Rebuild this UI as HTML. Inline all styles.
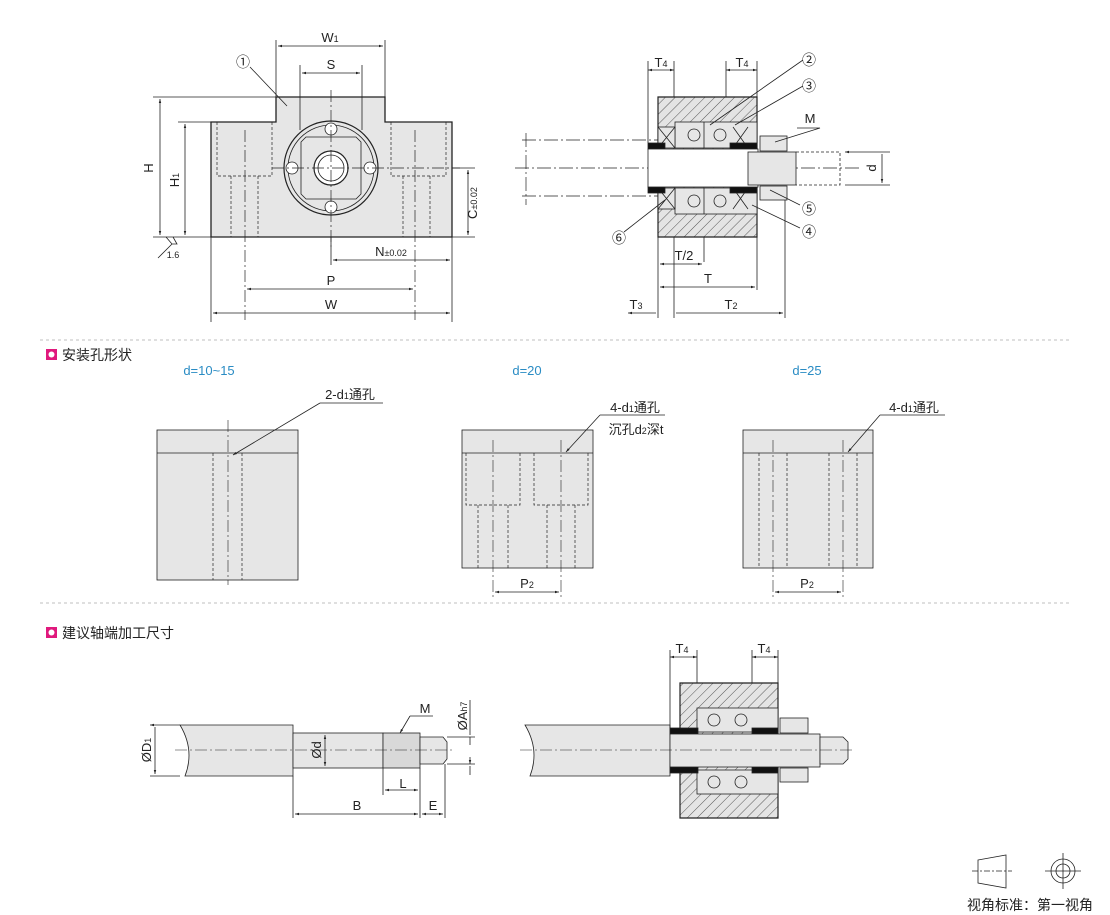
<!DOCTYPE html>
<html><head><meta charset="utf-8"><style>
body{margin:0;background:#fff}
svg{display:block;font-family:"Liberation Sans","Noto Sans CJK SC",sans-serif}
</style></head><body>
<svg width="1110" height="915" viewBox="0 0 1110 915" xmlns="http://www.w3.org/2000/svg">
<defs>
<pattern id="h" width="7" height="7" patternUnits="userSpaceOnUse" patternTransform="rotate(45)"><rect width="7" height="7" fill="#e4e4e4"/><line x1="0" y1="0" x2="0" y2="7" stroke="#333" stroke-width="0.8"/></pattern>
<marker id="a" viewBox="0 0 10 10" refX="10" refY="5" markerWidth="7" markerHeight="5" orient="auto-start-reverse"><path d="M0,2 L10,5 L0,8z" fill="#222"/></marker>
</defs>
<g stroke="#222" stroke-width="0.8" fill="none">
<!-- TOP LEFT VIEW -->
<path d="M211,122 H276 V97 H385 V122 H452 V237 H211 Z" fill="#e6e6e6" stroke-width="1.3"/>
<g stroke-dasharray="3,2" stroke-width="0.7">
<path d="M217,122 V176 H272 V122"/><path d="M391,122 V176 H446 V122"/>
<path d="M231,176 V237 M258,176 V237 M403,176 V237 M430,176 V237"/>
</g>
<circle cx="331" cy="168" r="47" fill="#e6e6e6" stroke-width="1.2"/>
<circle cx="331" cy="168" r="43"/>
<path d="M306,137 H356 L361,142 V194 L356,199 H306 L301,194 V142 Z"/>
<circle cx="331" cy="168" r="17" fill="#fff" stroke-width="1.2"/>
<circle cx="331" cy="168" r="13"/>
<circle cx="331" cy="129" r="6" fill="#fff"/><circle cx="331" cy="207" r="6" fill="#fff"/>
<circle cx="292" cy="168" r="6" fill="#fff"/><circle cx="370" cy="168" r="6" fill="#fff"/>
<g stroke-dasharray="12,3,2,3" stroke-width="0.7">
<path d="M331,90 V250 M272,168 H460 M245,130 V320 M415,130 V320"/>
</g>
<!-- dims -->
<path d="M276,97 V40 M385,97 V40 M300,130 V65 M362,130 V65"/>
<path d="M278,46 H383" marker-start="url(#a)" marker-end="url(#a)"/>
<path d="M302,73 H360" marker-start="url(#a)" marker-end="url(#a)"/>
<path d="M153,97 H276 M178,122 H211 M153,237 H211"/>
<path d="M160,99 V235" marker-start="url(#a)" marker-end="url(#a)"/>
<path d="M185,124 V235" marker-start="url(#a)" marker-end="url(#a)"/>
<path d="M452,168 H475 M452,237 H475"/>
<path d="M468,170 V235" marker-start="url(#a)" marker-end="url(#a)"/>
<path d="M211,237 V322 M452,237 V322 M331,237 V265"/>
<path d="M333,260 H450" marker-start="url(#a)" marker-end="url(#a)"/>
<path d="M247,289 H413" marker-start="url(#a)" marker-end="url(#a)"/>
<path d="M213,313 H450" marker-start="url(#a)" marker-end="url(#a)"/>
<path d="M250,67 L287,106"/>
<path d="M166,237 L172,244 H177 L173,237 M158,258 L172,244"/>
<!-- TOP RIGHT SECTION -->
<g stroke-dasharray="14,3,2,3" stroke-width="0.7"><path d="M522,140 H658 M522,196 H658 M526,133 V205 M515,168 H860"/></g>
<path d="M658,97 H757 V237 H658 Z" fill="url(#h)" stroke-width="1.2"/>
<rect x="675" y="122" width="82" height="26" fill="#e6e6e6"/>
<rect x="675" y="188" width="82" height="26" fill="#e6e6e6"/>
<rect x="658" y="127" width="17" height="21" fill="#e6e6e6"/><rect x="658" y="188" width="17" height="21" fill="#e6e6e6"/>
<path d="M658,127 L675,148 M675,127 L658,148 M658,188 L675,209 M675,188 L658,209 M733,127 L748,148 M748,127 L733,148 M733,188 L748,209 M748,188 L733,209"/>
<circle cx="694" cy="135" r="6"/><circle cx="720" cy="135" r="6"/><circle cx="694" cy="201" r="6"/><circle cx="720" cy="201" r="6"/>
<path d="M704,122 V148 M704,188 V214"/>
<rect x="648" y="143" width="17" height="6" fill="#111"/><rect x="648" y="187" width="17" height="6" fill="#111"/>
<rect x="730" y="143" width="27" height="6" fill="#111"/><rect x="730" y="187" width="27" height="6" fill="#111"/>
<rect x="648" y="149" width="110" height="38" fill="#fff"/>
<rect x="748" y="152" width="48" height="33" fill="#e6e6e6"/>
<path d="M796,152 H840 V185 H796" stroke-dasharray="3,2"/>
<rect x="760" y="136" width="27" height="15" fill="#e6e6e6"/><rect x="760" y="186" width="27" height="14" fill="#e6e6e6"/>
<path d="M648,61 V143 M674,61 V97 M726,61 V97 M757,61 V97 M658,237 V318 M674,237 V318 M704,237 V262 M757,237 V290 M785,200 V318"/>
<path d="M648,70 H674" marker-start="url(#a)" marker-end="url(#a)"/>
<path d="M726,70 H757" marker-start="url(#a)" marker-end="url(#a)"/>
<path d="M660,264 H702" marker-start="url(#a)" marker-end="url(#a)"/>
<path d="M660,287 H755" marker-start="url(#a)" marker-end="url(#a)"/>
<path d="M628,313 H656 M676,313 H783" marker-start="url(#a)" marker-end="url(#a)"/>
<path d="M845,152 H890 M845,185 H890 M882,154 V183" marker-start="url(#a)" marker-end="url(#a)"/>
<path d="M803,60 L710,125 M803,86 L735,125 M797,128 H820 L775,142 M800,205 L770,190 M800,228 L752,205 M624,232 L665,200"/>
<!-- separators -->
<path d="M40,340 H1070 M40,603 H1070" stroke="#aaa" stroke-dasharray="3,3"/>
<!-- mid blocks -->
<rect x="157" y="430" width="141" height="150" fill="#e6e6e6"/><path d="M157,453 H298"/>
<path d="M213,453 V580 M242,453 V580" stroke-dasharray="3,2" stroke-width="0.7"/>
<path d="M228,420 V585" stroke-dasharray="12,3,2,3" stroke-width="0.6"/>
<path d="M320,403 H383 M320,403 L233,455" marker-end="url(#a)"/>
<rect x="462" y="430" width="131" height="138" fill="#e6e6e6"/>
<g stroke-dasharray="3,2" stroke-width="0.7"><path d="M466,453 V505 H520 V453 M534,453 V505 H588 V453 M478,505 V568 M508,505 V568 M547,505 V568 M575,505 V568"/></g>
<path d="M493,440 V598 M561,440 V598" stroke-dasharray="12,3,2,3" stroke-width="0.6"/>
<path d="M462,453 H593"/>
<path d="M600,415 H665 M600,415 L566,452" marker-end="url(#a)"/>
<path d="M495,592 H559" marker-start="url(#a)" marker-end="url(#a)"/>
<rect x="743" y="430" width="130" height="138" fill="#e6e6e6"/><path d="M743,453 H873"/>
<g stroke-dasharray="3,2" stroke-width="0.7"><path d="M759,453 V568 M787,453 V568 M829,453 V568 M857,453 V568"/></g>
<path d="M773,440 V598 M843,440 V598" stroke-dasharray="12,3,2,3" stroke-width="0.6"/>
<path d="M880,415 H945 M880,415 L848,452" marker-end="url(#a)"/>
<path d="M775,592 H841" marker-start="url(#a)" marker-end="url(#a)"/>
<!-- bottom shaft -->
<path d="M180,725 H293 V776 H185 Q195,750 180,725Z" fill="#e6e6e6"/>
<rect x="293" y="733" width="90" height="35" fill="#e6e6e6"/>
<rect x="383" y="733" width="37" height="35" fill="#d8d8d8"/>
<path d="M420,737 H443 L447,742 V759 L443,764 H420Z" fill="#e6e6e6"/>
<path d="M175,750 H455" stroke-dasharray="12,3,2,3" stroke-width="0.6"/>
<path d="M150,725 H180 M150,776 H180 M155,727 V774" marker-start="url(#a)" marker-end="url(#a)"/>
<path d="M325,735 V766" marker-start="url(#a)" marker-end="url(#a)"/>
<path d="M293,776 V818 M383,768 V795 M420,768 V818 M445,764 V818 M447,737 H475 M447,764 H475"/>
<path d="M470,700 V735 M470,766 V775" /><path d="M470,745 V737 M470,757 V764" marker-end="url(#a)"/>
<path d="M385,790 H418" marker-start="url(#a)" marker-end="url(#a)"/>
<path d="M295,814 H418" marker-start="url(#a)" marker-end="url(#a)"/>
<path d="M422,814 H443" marker-start="url(#a)" marker-end="url(#a)"/>
<path d="M410,716 H433 M410,716 L400,733" marker-end="url(#a)"/>
<!-- bottom assembly -->
<path d="M525,725 H670 V776 H530 Q540,750 525,725Z" fill="#e6e6e6"/>
<path d="M680,683 H778 V818 H680Z" fill="url(#h)" stroke-width="1.2"/>
<rect x="697" y="708" width="81" height="24" fill="#e6e6e6"/><rect x="697" y="770" width="81" height="24" fill="#e6e6e6"/>
<circle cx="714" cy="720" r="6"/><circle cx="741" cy="720" r="6"/><circle cx="714" cy="782" r="6"/><circle cx="741" cy="782" r="6"/>
<rect x="670" y="728" width="28" height="6" fill="#111"/><rect x="670" y="767" width="28" height="6" fill="#111"/>
<rect x="752" y="728" width="26" height="6" fill="#111"/><rect x="752" y="767" width="26" height="6" fill="#111"/>
<rect x="670" y="734" width="150" height="33" fill="#e6e6e6"/>
<path d="M820,737 H843 L848,742 V759 L843,764 H820Z" fill="#e6e6e6"/>
<rect x="780" y="718" width="28" height="15" fill="#e6e6e6"/><rect x="780" y="768" width="28" height="14" fill="#e6e6e6"/>
<path d="M520,750 H855" stroke-dasharray="12,3,2,3" stroke-width="0.6"/>
<path d="M670,650 V728 M697,650 V683 M752,650 V683 M778,650 V683"/>
<path d="M670,657 H697" marker-start="url(#a)" marker-end="url(#a)"/>
<path d="M752,657 H778" marker-start="url(#a)" marker-end="url(#a)"/>
<!-- legend -->
<path d="M978,860 L1006,855 V888 L978,883Z"/>
<path d="M972,871 H1012" stroke-dasharray="6,2,2,2"/>
<circle cx="1063" cy="871" r="12"/><circle cx="1063" cy="871" r="7"/>
<path d="M1063,853 V889 M1045,871 H1081"/>
</g>
<g fill="#222" font-size="13" text-anchor="middle">
<text x="330" y="42">W<tspan font-size="9">1</tspan></text>
<text x="331" y="69">S</text>
<text x="243" y="67" font-size="14">①</text>
<text x="153" y="168" transform="rotate(-90 153 168)">H</text>
<text x="179" y="180" transform="rotate(-90 179 180)">H<tspan font-size="9">1</tspan></text>
<text x="477" y="203" transform="rotate(-90 477 203)">C<tspan font-size="9">±0.02</tspan></text>
<text x="391" y="256">N<tspan font-size="9">±0.02</tspan></text>
<text x="331" y="285">P</text>
<text x="331" y="309">W</text>
<text x="173" y="258" font-size="9">1.6</text>
<text x="661" y="67">T<tspan font-size="9">4</tspan></text>
<text x="742" y="67">T<tspan font-size="9">4</tspan></text>
<text x="684" y="260">T/2</text>
<text x="708" y="283">T</text>
<text x="636" y="309">T<tspan font-size="9">3</tspan></text>
<text x="731" y="309">T<tspan font-size="9">2</tspan></text>
<text x="810" y="123">M</text>
<text x="876" y="168" transform="rotate(-90 876 168)">d</text>
<text x="809" y="65" font-size="14">②</text><text x="809" y="91" font-size="14">③</text>
<text x="809" y="214" font-size="14">⑤</text><text x="809" y="237" font-size="14">④</text>
<text x="619" y="243" font-size="14">⑥</text>
<text x="209" y="375" fill="#2a8cc4">d=10~15</text>
<text x="527" y="375" fill="#2a8cc4">d=20</text>
<text x="807" y="375" fill="#2a8cc4">d=25</text>
<text x="350" y="399">2-d<tspan font-size="9">1</tspan>通孔</text>
<text x="635" y="412">4-d<tspan font-size="9">1</tspan>通孔</text>
<text x="636" y="434">沉孔d<tspan font-size="9">2</tspan>深t</text>
<text x="914" y="412">4-d<tspan font-size="9">1</tspan>通孔</text>
<text x="527" y="588">P<tspan font-size="9">2</tspan></text>
<text x="807" y="588">P<tspan font-size="9">2</tspan></text>
<text x="151" y="750" transform="rotate(-90 151 750)">ØD<tspan font-size="9">1</tspan></text>
<text x="321" y="750" transform="rotate(-90 321 750)">Ød</text>
<text x="467" y="716" transform="rotate(-90 467 716)">ØA<tspan font-size="9">h7</tspan></text>
<text x="425" y="713">M</text>
<text x="403" y="788">L</text>
<text x="357" y="810">B</text>
<text x="433" y="810">E</text>
<text x="682" y="653">T<tspan font-size="9">4</tspan></text>
<text x="764" y="653">T<tspan font-size="9">4</tspan></text>
<text x="1030" y="910" font-size="14">视角标准：第一视角</text>
</g>
<g font-size="14" fill="#222">
<rect x="46" y="349" width="11" height="11" fill="#e0197d"/><rect x="48.5" y="351.5" width="6" height="6" fill="#fff" rx="3"/>
<text x="62" y="360">安装孔形状</text>
<rect x="46" y="627" width="11" height="11" fill="#e0197d"/><rect x="48.5" y="629.5" width="6" height="6" fill="#fff" rx="3"/>
<text x="62" y="638">建议轴端加工尺寸</text>
</g>
</svg>
</body></html>
